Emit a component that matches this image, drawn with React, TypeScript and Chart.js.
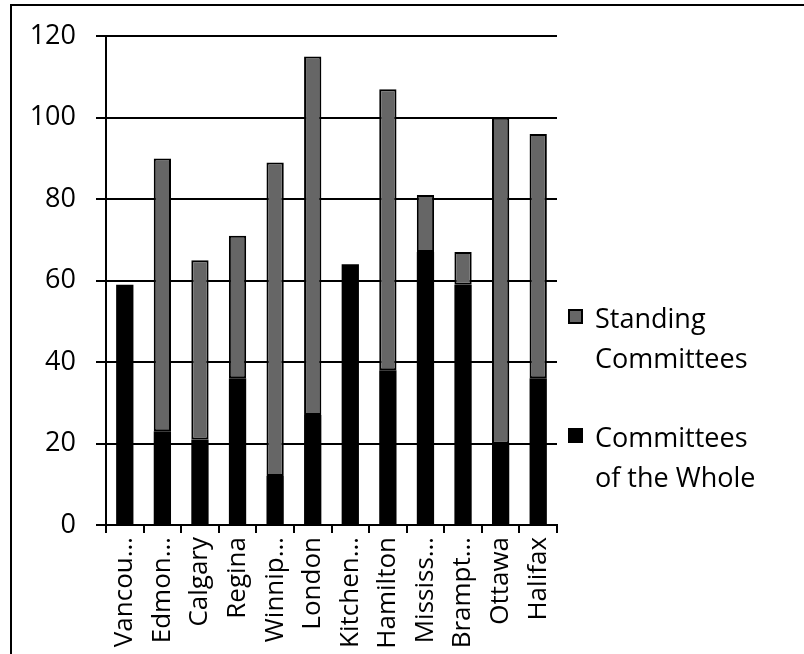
import React, { useEffect, useRef } from "react";
import { Chart, registerables } from "chart.js";

Chart.register(...registerables);

const categories = [
  "Vancou…", "Edmon…", "Calgary", "Regina", "Winnip…", "London",
  "Kitchen…", "Hamilton", "Mississ…", "Brampt…", "Ottawa", "Halifax",
];
const committeesOfWhole = [59, 23, 21, 36, 12, 27, 64, 38, 67, 59, 20, 36];
const standingCommittees = [0, 67, 44, 35, 77, 88, 0, 69, 14, 8, 80, 60];
const yTicks = [0, 20, 40, 60, 80, 100, 120];

const seriesNames = ["Committees of the Whole", "Standing Committees"];
const legendLines = [
  ["Standing", "Committees"],
  ["Committees", "of the Whole"],
];

const FONT = "'Open Sans', 'DejaVu Sans', sans-serif";
const GRAY = "#666666";

const legendPlugin = {
  id: "customLegend",
  afterDraw(chart: any) {
    const ctx = chart.ctx as CanvasRenderingContext2D;
    ctx.save();
    const items = [
      { fill: GRAY, lines: legendLines[0], boxTop: 309, base: 328 },
      { fill: "#000000", lines: legendLines[1], boxTop: 428, base: 447 },
    ];
    ctx.font = `27px ${FONT}`;
    ctx.textBaseline = "alphabetic";
    ctx.textAlign = "left";
    for (const it of items) {
      ctx.fillStyle = it.fill;
      ctx.fillRect(568, it.boxTop, 15, 15);
      ctx.strokeStyle = "#000";
      ctx.lineWidth = 2;
      ctx.strokeRect(569, it.boxTop + 1, 13, 13);
      ctx.fillStyle = "#000";
      it.lines.forEach((ln, i) => ctx.fillText(ln, 595, it.base + i * 40));
    }
    ctx.restore();
  },
};

export default function App() {
  const ref = useRef<HTMLCanvasElement | null>(null);

  useEffect(() => {
    if (!ref.current) return;
    const chart = new Chart(ref.current, {
      type: "bar",
      data: {
        labels: categories,
        datasets: [
          {
            label: seriesNames[0],
            data: committeesOfWhole,
            backgroundColor: "#000000",
            borderColor: "#000000",
            borderWidth: 0,
            categoryPercentage: 1,
            barPercentage: 0.46,
          },
          {
            label: seriesNames[1],
            data: standingCommittees,
            backgroundColor: GRAY,
            borderColor: "#000000",
            borderWidth: 2,
            borderSkipped: false,
            categoryPercentage: 1,
            barPercentage: 0.46,
          },
        ],
      },
      options: {
        animation: false,
        responsive: false,
        maintainAspectRatio: false,
        layout: { padding: { left: 0, top: 33, right: 247, bottom: 0 } },
        plugins: {
          legend: { display: false },
          tooltip: { enabled: false },
        },
        scales: {
          x: {
            stacked: true,
            offset: true,
            afterFit: (s: any) => {
              s.height = 129;
            },
            grid: {
              display: true,
              offset: true,
              drawOnChartArea: false,
              drawTicks: true,
              tickLength: 8,
              color: "#000",
              lineWidth: 2,
            },
            border: { display: true, color: "#000", width: 2 },
            ticks: {
              autoSkip: false,
              minRotation: 90,
              maxRotation: 90,
              padding: 4,
              color: "#000",
              font: { family: FONT, size: 26 },
            },
          },
          y: {
            stacked: true,
            min: 0,
            max: 120,
            afterFit: (s: any) => {
              s.width = 106;
            },
            afterBuildTicks: (s: any) => {
              s.ticks = yTicks.map((v) => ({ value: v }));
            },
            grid: {
              color: "#000",
              lineWidth: 2,
              drawTicks: true,
              tickLength: 10,
            },
            border: { display: true, color: "#000", width: 2 },
            ticks: {
              padding: 20,
              color: "#000",
              font: { family: FONT, size: 27 },
            },
          },
        },
      },
      plugins: [legendPlugin],
    });
    return () => chart.destroy();
  }, []);

  return (
    <div
      style={{
        position: "fixed",
        left: 0,
        top: 0,
        width: 804,
        height: 654,
        overflow: "hidden",
        background: "#fff",
      }}
    >
      <div
        style={{
          position: "absolute",
          left: 10,
          top: 4,
          width: 900,
          height: 800,
          border: "2px solid #000",
        }}
      />
      <canvas
        ref={ref}
        width={804}
        height={654}
        style={{ position: "absolute", left: 0, top: 0, width: 804, height: 654 }}
      />
    </div>
  );
}
